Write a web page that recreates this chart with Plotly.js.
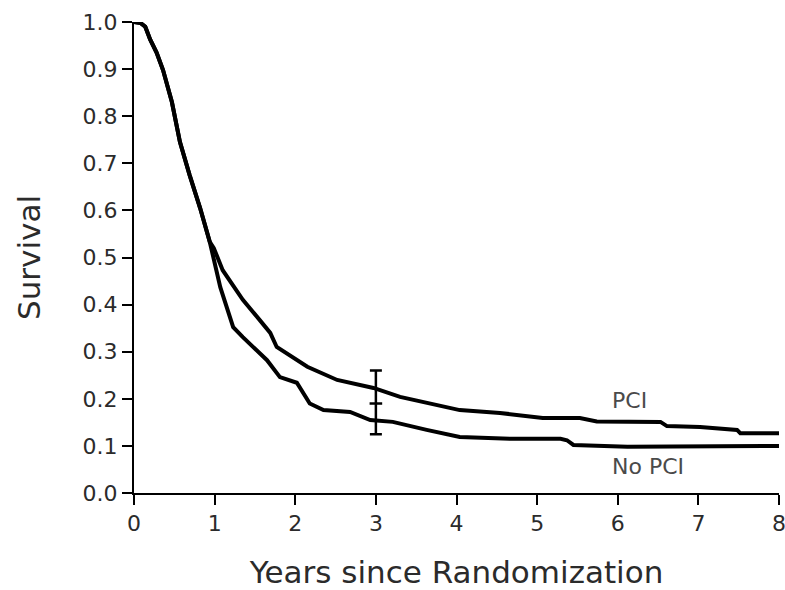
<!DOCTYPE html>
<html>
<head>
<meta charset="utf-8">
<script src="https://cdn.plot.ly/plotly-3.0.1.min.js"></script>
<style>
  html, body { margin: 0; padding: 0; background: #fff; }
  #chart { width: 785px; height: 590px; }
</style>
</head>
<body>
<div id="chart"></div>
<script>
// Kaplan-Meier survival curves
const pciYears = [0, 0.08, 0.14, 0.2, 0.28, 0.36, 0.47, 0.57, 0.69, 0.82, 0.94, 0.99, 1.10, 1.35, 1.56, 1.69, 1.77, 2.15, 2.52, 2.89, 2.97, 3.30, 3.67, 4.04, 4.54, 5.07, 5.53, 5.74, 6.53, 6.61, 7.02, 7.48, 7.52, 8.0];
const pciSurv  = [1.0, 0.998, 0.99, 0.963, 0.935, 0.898, 0.83, 0.745, 0.675, 0.605, 0.533, 0.52, 0.473, 0.41, 0.367, 0.34, 0.31, 0.268, 0.24, 0.225, 0.223, 0.204, 0.19, 0.176, 0.17, 0.159, 0.159, 0.152, 0.151, 0.142, 0.14, 0.134, 0.127, 0.127];

const noPciYears = [0, 0.08, 0.14, 0.2, 0.28, 0.36, 0.47, 0.57, 0.69, 0.82, 0.94, 0.97, 1.07, 1.23, 1.35, 1.65, 1.81, 2.02, 2.18, 2.35, 2.68, 2.93, 3.21, 3.63, 4.04, 4.66, 5.29, 5.37, 5.45, 6.12, 8.0];
const noPciSurv  = [1.0, 0.998, 0.99, 0.963, 0.935, 0.898, 0.83, 0.745, 0.675, 0.605, 0.533, 0.51, 0.437, 0.352, 0.331, 0.282, 0.246, 0.234, 0.19, 0.176, 0.172, 0.155, 0.151, 0.134, 0.119, 0.115, 0.115, 0.112, 0.102, 0.098, 0.1];

// Confidence interval marker at 3 years
const ciYear = [3];
const ciMid = [0.19];
const ciPlus = [0.07];
const ciMinus = [0.065];

const xTicks = [0, 1, 2, 3, 4, 5, 6, 7, 8];
const yTicks = [0, 0.1, 0.2, 0.3, 0.4, 0.5, 0.6, 0.7, 0.8, 0.9, 1.0];
const seriesLabels = ['PCI', 'No PCI'];
const labelPos = { x: [5.9, 5.9], y: [0.197, 0.057] };

const FONT = '"DejaVu Sans", Verdana, sans-serif';
const lineStyle = { color: '#000', width: 4 };

const traces = [
  { x: pciYears, y: pciSurv, mode: 'lines', line: lineStyle, name: seriesLabels[0] },
  { x: noPciYears, y: noPciSurv, mode: 'lines', line: lineStyle, name: seriesLabels[1] },
  { x: ciYear, y: ciMid, mode: 'markers',
    marker: { symbol: 'line-ew', size: 9, line: { color: '#000', width: 2.5 } },
    error_y: { type: 'data', symmetric: false, array: ciPlus, arrayminus: ciMinus, color: '#000', thickness: 2.5, width: 6 },
    showlegend: false }
];

const layout = {
  width: 785, height: 590,
  margin: { l: 134, r: 6, t: 22, b: 97 },
  paper_bgcolor: '#fff', plot_bgcolor: '#fff',
  showlegend: false,
  font: { family: FONT, color: '#2b2b2b' },
  xaxis: {
    range: [0, 8], tickvals: xTicks, ticktext: xTicks.map(String),
    showgrid: false, zeroline: false,
    showline: true, linecolor: '#000', linewidth: 2,
    ticks: 'outside', ticklen: 10, tickwidth: 2, tickcolor: '#000',
    ticklabeloverflow: 'allow',
    tickfont: { family: FONT, size: 22, color: '#2b2b2b' },
    title: { text: 'Years since Randomization', font: { family: FONT, size: 31, color: '#2b2b2b' }, standoff: 28 }
  },
  yaxis: {
    range: [0, 1], tickvals: yTicks, ticktext: yTicks.map(v => v.toFixed(1)),
    showgrid: false, zeroline: false,
    showline: true, linecolor: '#000', linewidth: 2,
    ticks: 'outside', ticklen: 10, tickwidth: 2, tickcolor: '#000',
    tickfont: { family: FONT, size: 22, color: '#2b2b2b' },
    title: { text: 'Survival', font: { family: FONT, size: 31, color: '#2b2b2b' }, standoff: 33 }
  },
  annotations: seriesLabels.map((t, i) => ({
    x: labelPos.x[i], y: labelPos.y[i], xref: 'x', yref: 'y',
    xanchor: 'left', yanchor: 'middle',
    text: t, showarrow: false, font: { family: FONT, size: 22, color: '#4a4a4a' }
  }))
};

Plotly.newPlot('chart', traces, layout, { staticPlot: true, displayModeBar: false });
</script>
</body>
</html>
